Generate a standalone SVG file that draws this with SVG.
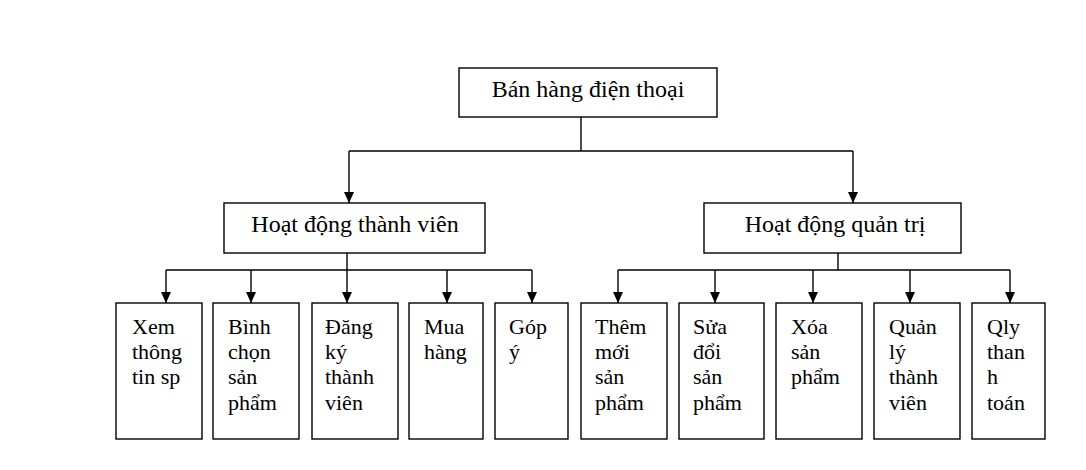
<svg xmlns="http://www.w3.org/2000/svg" width="1086" height="470" viewBox="0 0 1086 470">
<style>
.box{fill:#fff;stroke:#000;stroke-width:1.4}
.t{font-family:"Liberation Serif","Times New Roman",serif;font-size:22px;fill:#000}
.c{text-anchor:middle;font-size:24px}
.ln{fill:none;stroke:#000;stroke-width:1.4}
</style>
<defs>
<marker id="ah" viewBox="0 0 11 10" refX="11" refY="5" markerWidth="11" markerHeight="10" markerUnits="userSpaceOnUse" orient="auto">
<path d="M0,0 L11,5 L0,10 z" fill="#000"/>
</marker>
</defs>
<rect width="1086" height="470" fill="#fff"/>
<g id="connectors">
<path class="ln" d="M581,117 V151 M349,151 H853 M166,270 H532 M347,253 V270 M618,270 H1010 M838,253 V270"/>
<path class="ln" marker-end="url(#ah)" d="M349,151 V203"/>
<path class="ln" marker-end="url(#ah)" d="M853,151 V203"/>
<path class="ln" marker-end="url(#ah)" d="M166,270 V303"/>
<path class="ln" marker-end="url(#ah)" d="M251,270 V303"/>
<path class="ln" marker-end="url(#ah)" d="M347,270 V303"/>
<path class="ln" marker-end="url(#ah)" d="M447,270 V303"/>
<path class="ln" marker-end="url(#ah)" d="M532,270 V303"/>
<path class="ln" marker-end="url(#ah)" d="M618,270 V303"/>
<path class="ln" marker-end="url(#ah)" d="M715,270 V303"/>
<path class="ln" marker-end="url(#ah)" d="M813,270 V303"/>
<path class="ln" marker-end="url(#ah)" d="M910,270 V303"/>
<path class="ln" marker-end="url(#ah)" d="M1010,270 V303"/>
</g>
<g id="root"><rect class="box" x="459" y="68" width="258" height="49"/><text class="t c" x="588" y="97">Bán hàng điện thoại</text></g>
<g id="member"><rect class="box" x="224" y="203" width="261" height="50"/><text class="t c" x="355" y="232">Hoạt động thành viên</text></g>
<g id="admin"><rect class="box" x="704" y="203" width="257" height="50"/><text class="t c" x="835" y="232">Hoạt động quản trị</text></g>
<g id="n1"><rect class="box" x="116" y="303" width="86" height="136"/><text class="t" x="132" y="333.5">Xem<tspan x="132" y="358.5">thông</tspan><tspan x="132" y="384">tin sp</tspan></text></g>
<g id="n2"><rect class="box" x="213" y="303" width="86" height="136"/><text class="t" x="228" y="333.5">Bình<tspan x="228" y="358.5">chọn</tspan><tspan x="228" y="384">sản</tspan><tspan x="228" y="409.5">phẩm</tspan></text></g>
<g id="n3"><rect class="box" x="312" y="303" width="86" height="136"/><text class="t" x="325" y="333.5">Đăng<tspan x="325" y="358.5">ký</tspan><tspan x="325" y="384">thành</tspan><tspan x="325" y="409.5">viên</tspan></text></g>
<g id="n4"><rect class="box" x="409" y="303" width="74" height="136"/><text class="t" x="424" y="333.5">Mua<tspan x="424" y="358.5">hàng</tspan></text></g>
<g id="n5"><rect class="box" x="495" y="303" width="73" height="136"/><text class="t" x="509" y="333.5">Góp<tspan x="509" y="358.5">ý</tspan></text></g>
<g id="n6"><rect class="box" x="581" y="303" width="86" height="136"/><text class="t" x="595" y="333.5">Thêm<tspan x="595" y="358.5">mới</tspan><tspan x="595" y="384">sản</tspan><tspan x="595" y="409.5">phẩm</tspan></text></g>
<g id="n7"><rect class="box" x="679" y="303" width="85" height="136"/><text class="t" x="693" y="333.5">Sửa<tspan x="693" y="358.5">đổi</tspan><tspan x="693" y="384">sản</tspan><tspan x="693" y="409.5">phẩm</tspan></text></g>
<g id="n8"><rect class="box" x="776" y="303" width="86" height="136"/><text class="t" x="791" y="333.5">Xóa<tspan x="791" y="358.5">sản</tspan><tspan x="791" y="384">phẩm</tspan></text></g>
<g id="n9"><rect class="box" x="874" y="303" width="86" height="136"/><text class="t" x="889" y="333.5">Quản<tspan x="889" y="358.5">lý</tspan><tspan x="889" y="384">thành</tspan><tspan x="889" y="409.5">viên</tspan></text></g>
<g id="n10"><rect class="box" x="972" y="303" width="73" height="136"/><text class="t" x="987" y="333.5">Qly<tspan x="987" y="358.5">than</tspan><tspan x="987" y="384">h</tspan><tspan x="987" y="409.5">toán</tspan></text></g>
</svg>
